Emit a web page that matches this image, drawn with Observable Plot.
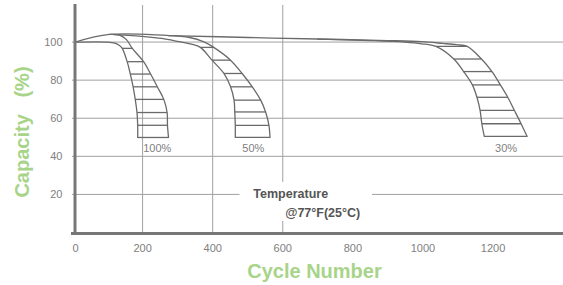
<!DOCTYPE html>
<html>
<head>
<meta charset="utf-8">
<script src="https://cdn.jsdelivr.net/npm/d3@7"></script>
<script src="https://cdn.jsdelivr.net/npm/@observablehq/plot@0.6"></script>
<style>
  html, body { margin: 0; padding: 0; background: #fff; }
</style>
</head>
<body>
<div id="chart"></div>
<script>
// ---- data ----
const xTicks = [0, 200, 400, 600, 800, 1000, 1200];
const yTicks = [20, 40, 60, 80, 100];
const xGrid = [200, 400, 600];

// 100% DOD band
const rungCaps100 = [96.7, 89.7, 83.2, 76.5, 69.9, 63, 56.3, 49.9];
const left100X   = [142, 156, 165, 173, 179, 184, 186, 186];
const right100X  = [170.5, 203, 223, 242, 260.5, 270, 271, 274];
const top100Left  = [[8, 100], [101, 100], [121, 99.4], [134, 98.2]];
const top100Right = [[106, 104], [134, 103.7], [154, 101.3]];

// 50% DOD band
const rungCaps50 = [97.2, 90.5, 83.5, 76.5, 69.5, 63.3, 56.3, 49.9];
const left50X    = [365, 398, 432, 451, 461, 463, 464.5, 464.5];
const right50X   = [403, 451, 484, 513, 537, 551, 560.5, 563.5];
const top50Left  = [[118, 103.9], [205, 102.9], [255, 101.9], [304, 100.2], [339, 98.9]];
const top50Right = [[274, 103.4], [334, 102.4], [375, 100.1]];

// 30% DOD band (right side continues the common envelope)
const rungCaps30 = [97.7, 91.1, 84.5, 77.5, 71, 64.1, 57.1, 50.5];
const left30X    = [1037, 1088, 1116, 1141, 1154, 1163, 1168, 1175];
const right30X   = [1126, 1167, 1197, 1221, 1242, 1261, 1280, 1297];
const top30Left  = [[700, 101.5], [849, 100.8], [948, 100], [997, 99.1]];
const envelope   = [[8, 100], [106, 104], [304, 103.3], [502, 102.4], [700, 101.6], [898, 100.8], [997, 100.2], [1056, 99.3], [1096, 98.6]];

const bandLabels = ["100%", "50%", "30%"];
const labelCycles = [242, 516, 1237];
const labelCaps = [44.1, 43.9, 44.1];

const noteLines = ["Temperature", "@77\u00b0F(25\u00b0C)"];
const noteCycles = [516, 607];
const noteCaps = [20, 10.5];

// ---- build tables ----
function side(id, top, xs, caps) {
  return top.map(([x, y]) => ({id, x, y})).concat(xs.map((x, i) => ({id, x, y: caps[i]})));
}
const curves = [
  ...side("100L", top100Left, left100X, rungCaps100),
  ...side("100R", top100Right, right100X, rungCaps100),
  ...side("50L", top50Left, left50X, rungCaps50),
  ...side("50R", top50Right, right50X, rungCaps50),
  ...side("30L", top30Left, left30X, rungCaps30),
  ...side("30R", envelope, right30X, rungCaps30)
];
function rungs(caps, L, R) { return caps.map((c, i) => ({x1: L[i], x2: R[i], y: c})); }
const rungData = [
  ...rungs(rungCaps100, left100X, right100X),
  ...rungs(rungCaps50, left50X, right50X),
  ...rungs(rungCaps30, left30X, right30X)
];
const labels = bandLabels.map((t, i) => ({t, x: labelCycles[i], y: labelCaps[i]}));
const notes = noteLines.map((t, i) => ({t, x: noteCycles[i], y: noteCaps[i]}));

const green = "#a8d48a";
const lineColor = "#6a6a6a";

const chart = Plot.plot({
  width: 563,
  height: 285,
  marginLeft: 72,
  marginRight: 0,
  marginTop: 5,
  marginBottom: 53,
  style: {fontFamily: "'Liberation Sans', Arial, sans-serif", fontSize: "11px", background: "#fff", overflow: "visible"},
  x: {domain: [0, 1401]},
  y: {domain: [0, 119.2]},
  marks: [
    Plot.gridY(yTicks, {stroke: "#a0a0a0", strokeOpacity: 1, strokeWidth: 1}),
    Plot.gridX(xGrid, {stroke: "#a0a0a0", strokeOpacity: 1, strokeWidth: 1}),
    Plot.rect([0], {x1: () => 478, x2: () => 856, y1: () => 5.8, y2: () => 26.3, fill: "#fff"}),
    Plot.line(curves, {x: "x", y: "y", z: "id", curve: "catmull-rom", stroke: lineColor, strokeWidth: 1.3}),
    Plot.link(rungData, {x1: "x1", x2: "x2", y1: "y", y2: "y", stroke: lineColor, strokeWidth: 1.3}),
    Plot.text(labels, {x: "x", y: "y", text: "t", fill: "#808080", fontSize: 11, textAnchor: "middle"}),
    Plot.text(notes, {x: "x", y: "y", text: "t", fill: "#555", fontSize: 12.5, fontWeight: "bold", textAnchor: "start", style: {letterSpacing: "-0.6px"}}),
    Plot.frame({anchor: "left", stroke: "#777", strokeWidth: 3, dx: 2.5}),
    Plot.frame({anchor: "bottom", stroke: "#777", strokeWidth: 3, dy: 1}),
    Plot.axisX(xTicks.filter(d => d === 0), {tickSize: 0, tickPadding: 12, dx: 3, fill: "#808080", label: null, fontSize: 11, tickFormat: d => String(d)}),
    Plot.axisX(xTicks.filter(d => d !== 0), {tickSize: 0, tickPadding: 12, fill: "#808080", label: null, fontSize: 11, tickFormat: d => String(d)}),
    Plot.axisY(yTicks, {tickSize: 0, tickPadding: 10, fill: "#808080", label: null, fontSize: 11, tickFormat: d => String(d)}),
    Plot.text(["Cycle Number"], {frameAnchor: "bottom", dx: -3.5, dy: 39, lineAnchor: "middle", textAnchor: "middle", fill: green, fontSize: 20, fontWeight: "bold"}),
    Plot.text(["Capacity\u00a0\u00a0\u00a0(%)"], {frameAnchor: "left", dx: -50, dy: 13, rotate: -90, lineAnchor: "middle", textAnchor: "middle", fill: green, fontSize: 20, fontWeight: "bold"})
  ]
});
document.getElementById("chart").appendChild(chart);
</script>
</body>
</html>
